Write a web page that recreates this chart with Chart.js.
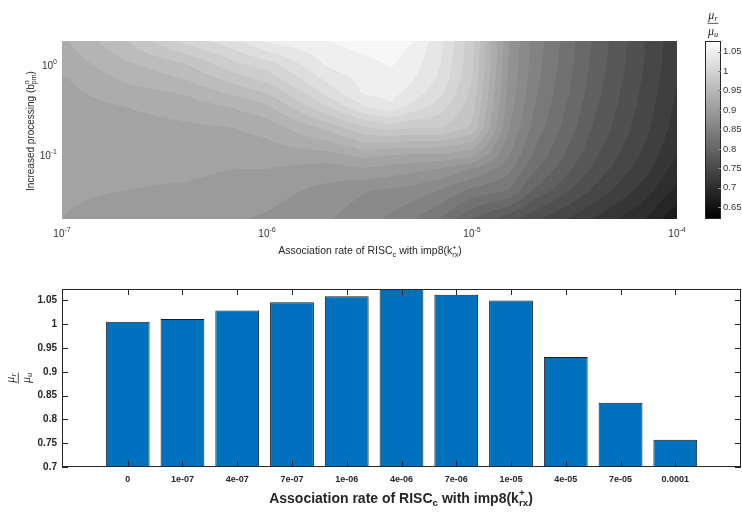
<!DOCTYPE html>
<html>
<head>
<meta charset="utf-8">
<script src="https://cdn.jsdelivr.net/npm/chart.js@4.4.1/dist/chart.umd.min.js"></script>
<style>
  body { margin: 0; background: #fff; }
  #wrap { position: relative; width: 742px; height: 514px; overflow: hidden; font-family: "Liberation Sans", Arial, sans-serif; color: #262626; }
  canvas { position: absolute; }
  .lbl { position: absolute; white-space: nowrap; transform: translate(-50%, -50%); line-height: 1.2; }
  .rot { transform: translate(-50%, -50%) rotate(-90deg); }
  .ss { display: inline-block; vertical-align: -0.35em; font-size: 70%; line-height: 1; text-align: left; }
  .ss span { display: block; }
  sub { font-size: 70%; vertical-align: -0.3em; line-height: 0; }
  .frac { display: inline-flex; flex-direction: column; align-items: center; font-family: "Liberation Serif", "Times New Roman", serif; font-style: italic; font-size: 12px; line-height: 1.1; }
  .frac .num { border-bottom: 1px solid #555; padding: 0 1px 1px; }
  .frac .den { padding-top: 1px; }
</style>
</head>
<body>
<div id="wrap">
  <canvas id="contour" width="700" height="262" style="left:0;top:0"></canvas>
  <canvas id="cbar" width="42" height="262" style="left:700px;top:0"></canvas>
  <canvas id="bars" width="742" height="244" style="left:0;top:270px"></canvas>

  <div class="lbl rot" style="left:30px;top:131px;font-size:10px">Increased processing (b<span class="ss"><span>n</span><span>pm</span></span>)</div>
  <div class="lbl" style="left:370px;top:251px;font-size:10.5px">Association rate of RISC<sub>c</sub> with imp8(k<span class="ss"><span>+</span><span>rx</span></span>)</div>
  <div class="lbl" style="left:713px;top:21px"><span class="frac"><span class="num">μ<sub>r</sub></span><span class="den">μ<sub>u</sub></span></span></div>
  <div class="lbl rot" style="left:16px;top:378px"><span class="frac"><span class="num">μ<sub>r</sub></span><span class="den">μ<sub>u</sub></span></span></div>
  <div class="lbl" style="left:401px;top:498px;font-size:14px;font-weight:bold">Association rate of RISC<sub>c</sub> with imp8(k<span class="ss"><span>+</span><span>rx</span></span>)</div>
</div>
<script>
// Data: contour surface (rows top -> bottom, columns left -> right)
const K_GRID = [1e-7, 2e-7, 4e-7, 7e-7, 1e-6, 2e-6, 3e-6, 4e-6, 5e-6, 7e-6, 1e-5, 1.5e-5, 2e-5, 4e-5, 7e-5, 1e-4]
const B_GRID = [1.85, 1, 0.7, 0.5, 0.35, 0.2, 0.1, 0.07, 0.04, 0.0195]
const MU_RATIO = [
  [0.932, 0.963, 1.000, 1.021, 1.042, 1.055, 1.062, 1.064, 1.056, 1.030, 0.985, 0.892, 0.855, 0.796, 0.755, 0.728],
  [0.924, 0.946, 0.963, 0.991, 1.002, 1.043, 1.050, 1.056, 1.049, 1.025, 0.983, 0.890, 0.853, 0.794, 0.754, 0.727],
  [0.918, 0.937, 0.950, 0.972, 0.985, 1.030, 1.046, 1.050, 1.043, 1.022, 0.980, 0.888, 0.851, 0.792, 0.752, 0.726],
  [0.915, 0.929, 0.937, 0.955, 0.966, 1.017, 1.043, 1.046, 1.036, 1.014, 0.976, 0.886, 0.849, 0.790, 0.750, 0.724],
  [0.913, 0.920, 0.927, 0.937, 0.947, 0.997, 1.026, 1.038, 1.022, 1.003, 0.972, 0.883, 0.846, 0.787, 0.748, 0.722],
  [0.911, 0.914, 0.917, 0.920, 0.925, 0.955, 0.978, 0.985, 0.980, 0.981, 0.962, 0.877, 0.840, 0.782, 0.744, 0.718],
  [0.909, 0.910, 0.911, 0.910, 0.912, 0.914, 0.925, 0.920, 0.918, 0.917, 0.910, 0.862, 0.828, 0.772, 0.736, 0.710],
  [0.908, 0.908, 0.908, 0.905, 0.905, 0.898, 0.903, 0.899, 0.895, 0.889, 0.875, 0.850, 0.818, 0.765, 0.730, 0.703],
  [0.906, 0.905, 0.903, 0.899, 0.896, 0.885, 0.876, 0.872, 0.869, 0.859, 0.840, 0.830, 0.798, 0.750, 0.717, 0.690],
  [0.905, 0.902, 0.896, 0.891, 0.888, 0.876, 0.865, 0.857, 0.848, 0.830, 0.800, 0.776, 0.759, 0.723, 0.695, 0.667]
]
const K_TICKS = [1e-7, 1e-6, 1e-5, 1e-4]
const B_TICKS = [0.1, 1]
const CB_TICKS = [0.65, 0.7, 0.75, 0.8, 0.85, 0.9, 0.95, 1, 1.05]

// Data: bar chart
const RATE_LABELS = ["0", "1e-07", "4e-07", "7e-07", "1e-06", "4e-06", "7e-06", "1e-05", "4e-05", "7e-05", "0.0001"]
const RATIO = [1.005, 1.011, 1.029, 1.046, 1.059, 1.08, 1.062, 1.050, 0.931, 0.835, 0.757]
const RATIO_TICKS = [0.7, 0.75, 0.8, 0.85, 0.9, 0.95, 1, 1.05]

// colour map / contour levels
const CB_MIN = 0.62, CB_MAX = 1.077
const LEVEL_STEP = 0.015

const FONT = "'Liberation Sans', Arial, sans-serif"
Chart.defaults.font.family = FONT
Chart.defaults.color = "#262626"

function numLabel(v) { return String(+v.toFixed(2)) }

// "10" with a raised exponent, drawn as real text
function drawPow(ctx, v, x, y, align) {
  const e = String(Math.round(Math.log10(v)))
  ctx.font = "10px " + FONT
  const wb = ctx.measureText("10").width
  ctx.font = "7px " + FONT
  const we = ctx.measureText(e).width
  const x0 = align === "right" ? x - wb - we : x - (wb + we) / 2
  ctx.textAlign = "left"; ctx.textBaseline = "alphabetic"
  ctx.font = "10px " + FONT
  ctx.fillText("10", x0, y)
  ctx.font = "7px " + FONT
  ctx.fillText(e, x0 + wb, y - 5)
}

function grayOf(v) {
  const t = Math.min(1, Math.max(0, (v - CB_MIN) / (CB_MAX - CB_MIN)))
  return Math.round(t * 255)
}

// find segment index + fraction in a monotone array
function locate(arr, v) {
  for (let i = 0; i < arr.length - 1; i++) {
    const a = arr[i], b = arr[i + 1]
    if ((v - a) * (v - b) <= 0) return [i, (v - a) / (b - a)]
  }
  const first = Math.abs(v - arr[0]) < Math.abs(v - arr[arr.length - 1])
  return first ? [0, 0] : [arr.length - 2, 1]
}

// filled contour drawn through the chart's log scales
const contourPlugin = {
  id: "contour",
  beforeDatasetsDraw(chart) {
    const { ctx, chartArea: a, scales: { x, y } } = chart
    const w = Math.round(a.right - a.left), h = Math.round(a.bottom - a.top)
    const off = document.createElement("canvas")
    off.width = w; off.height = h
    const octx = off.getContext("2d")
    const img = octx.createImageData(w, h)
    const lk = K_GRID.map(Math.log10), lb = B_GRID.map(Math.log10)
    const cols = []
    for (let i = 0; i < w; i++) cols.push(locate(lk, Math.log10(x.getValueForPixel(a.left + i + 0.5))))
    for (let j = 0; j < h; j++) {
      const [r, fy] = locate(lb, Math.log10(y.getValueForPixel(a.top + j + 0.5)))
      for (let i = 0; i < w; i++) {
        const [c, fx] = cols[i]
        const z = (1 - fy) * ((1 - fx) * MU_RATIO[r][c] + fx * MU_RATIO[r][c + 1]) +
                  fy * ((1 - fx) * MU_RATIO[r + 1][c] + fx * MU_RATIO[r + 1][c + 1])
        const band = Math.floor((z - CB_MIN) / LEVEL_STEP)
        const g = grayOf(CB_MIN + (band + 0.5) * LEVEL_STEP)
        const p = (j * w + i) * 4
        img.data[p] = g; img.data[p + 1] = g; img.data[p + 2] = g; img.data[p + 3] = 255
      }
    }
    octx.putImageData(img, 0, 0)
    ctx.drawImage(off, a.left, a.top)
  },
  afterDraw(chart) {
    const { ctx, chartArea: a, scales: { x, y } } = chart
    ctx.save()
    ctx.fillStyle = "#333"
    x.ticks.forEach(t => drawPow(ctx, t.value, x.getPixelForValue(t.value), a.bottom + 18, "center"))
    y.ticks.forEach(t => drawPow(ctx, t.value, a.left - 5, y.getPixelForValue(t.value) + 4, "right"))
    ctx.restore()
  }
}

const colorbarPlugin = {
  id: "colorbar",
  beforeDatasetsDraw(chart) {
    const { ctx, chartArea: a, scales: { y } } = chart
    const grad = ctx.createLinearGradient(0, y.getPixelForValue(CB_MIN), 0, y.getPixelForValue(CB_MAX))
    grad.addColorStop(0, "#000")
    grad.addColorStop(1, "#fff")
    ctx.save()
    ctx.fillStyle = grad
    ctx.fillRect(a.left, a.top, a.width, a.height)
    ctx.strokeStyle = "#262626"; ctx.lineWidth = 1
    ctx.strokeRect(a.left + 0.5, a.top + 0.5, a.width - 1, a.height - 1)
    ctx.beginPath()
    y.ticks.forEach(t => {
      const py = Math.round(y.getPixelForValue(t.value)) + 0.5
      ctx.moveTo(a.right, py); ctx.lineTo(a.right - 3, py)
    })
    ctx.strokeStyle = "#888"
    ctx.stroke()
    ctx.restore()
  }
}

const framePlugin = {
  id: "frame",
  afterDatasetsDraw(chart) {
    const { ctx, chartArea: a, scales: { x, y } } = chart
    ctx.save()
    ctx.strokeStyle = "#262626"; ctx.lineWidth = 1
    ctx.strokeRect(a.left + 0.5, a.top + 0.5, a.width - 1, a.height - 1)
    ctx.beginPath()
    y.ticks.forEach(t => {
      const py = Math.round(y.getPixelForValue(t.value)) + 0.5
      ctx.moveTo(a.left, py); ctx.lineTo(a.left + 6, py)
      ctx.moveTo(a.right, py); ctx.lineTo(a.right - 6, py)
    })
    x.ticks.forEach(t => {
      const px = Math.round(x.getPixelForValue(t.value)) + 0.5
      ctx.moveTo(px, a.bottom); ctx.lineTo(px, a.bottom - 6)
      ctx.moveTo(px, a.top); ctx.lineTo(px, a.top + 6)
    })
    ctx.stroke()
    ctx.restore()
  }
}

const hidden = { display: false, drawTicks: false }

// Top: contour map
new Chart(document.getElementById("contour"), {
  type: "scatter",
  data: { datasets: [] },
  options: {
    responsive: false, animation: false,
    layout: { padding: { top: 41, right: 23, left: 0, bottom: 0 } },
    plugins: { legend: { display: false }, tooltip: { enabled: false } },
    scales: {
      x: {
        type: "logarithmic", min: 1e-7, max: 1e-4,
        afterBuildTicks: s => { s.ticks = K_TICKS.map(v => ({ value: v })) },
        afterFit: s => { s.height = 262 - 219 },
        grid: hidden, border: { display: false },
        ticks: { display: false }
      },
      y: {
        type: "logarithmic", min: 0.0195, max: 1.85,
        afterBuildTicks: s => { s.ticks = B_TICKS.map(v => ({ value: v })) },
        afterFit: s => { s.width = 62 },
        grid: hidden, border: { display: false },
        ticks: { display: false }
      }
    }
  },
  plugins: [contourPlugin]
})

// Top: colour bar
new Chart(document.getElementById("cbar"), {
  type: "scatter",
  data: { datasets: [] },
  options: {
    responsive: false, animation: false,
    layout: { padding: { top: 41, bottom: 43, left: 5, right: 0 } },
    plugins: { legend: { display: false }, tooltip: { enabled: false } },
    scales: {
      x: { display: false },
      y: {
        position: "right", min: CB_MIN, max: CB_MAX,
        afterBuildTicks: s => { s.ticks = CB_TICKS.map(v => ({ value: v })) },
        afterFit: s => { s.width = 21 },
        grid: hidden, border: { display: false },
        ticks: { callback: numLabel, padding: 2, font: { size: 9.5 }, color: "#333" }
      }
    }
  },
  plugins: [colorbarPlugin]
})

// Bottom: bar chart
new Chart(document.getElementById("bars"), {
  type: "bar",
  data: {
    datasets: [{
      data: RATIO.map((v, i) => ({ x: i + 1, y: v })),
      backgroundColor: "#0072BD",
      borderColor: "#1a1a1a",
      borderWidth: 1,
      barPercentage: 0.8,
      categoryPercentage: 1
    }]
  },
  options: {
    responsive: false, animation: false,
    layout: { padding: { top: 19, right: 1, left: 0, bottom: 0 } },
    plugins: { legend: { display: false }, tooltip: { enabled: false } },
    scales: {
      x: {
        type: "linear", min: -0.2, max: 12.2, offset: false,
        afterBuildTicks: s => { s.ticks = RATE_LABELS.map((_, i) => ({ value: i + 1 })) },
        afterFit: s => { s.height = 47 },
        grid: hidden, border: { display: false },
        ticks: { callback: v => RATE_LABELS[Math.round(v) - 1], padding: 7, autoSkip: false, maxRotation: 0, font: { size: 9, weight: "bold" } }
      },
      y: {
        min: 0.7, max: 1.074,
        afterBuildTicks: s => { s.ticks = RATIO_TICKS.map(v => ({ value: v })) },
        afterFit: s => { s.width = 62 },
        grid: hidden, border: { display: false },
        ticks: { callback: numLabel, padding: 5, font: { size: 10, weight: "bold" } }
      }
    }
  },
  plugins: [framePlugin]
})
</script>
</body>
</html>
